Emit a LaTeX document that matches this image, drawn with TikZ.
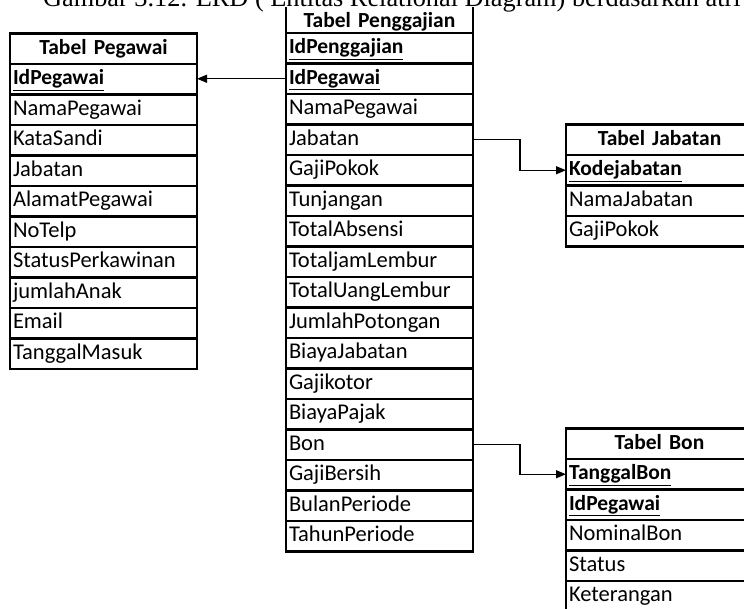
\documentclass[tikz,border=0pt]{standalone}
\usepackage{fontspec}
\setmainfont{Carlito}
\newfontfamily\captionfont{Liberation Serif}
\usetikzlibrary{arrows.meta}

\tikzset{
  field/.style={rectangle,draw,line width=2.5pt,anchor=north west,outer sep=0pt,
    minimum width=187pt,minimum height=30.5pt,text width=181pt,inner xsep=3pt,
    inner ysep=4.75pt,text height=16pt,text depth=5pt,
    align=left,font=\fontsize{22.5pt}{24pt}\selectfont},
  key/.style={field,font=\fontsize{21.5pt}{24pt}\selectfont\bfseries},
  head/.style={key,align=center},
  link/.style={line width=1.3pt,-{Triangle[length=10pt,width=8pt]}}
}

\begin{document}
\begin{tikzpicture}[x=1pt,y=-1pt]
    \useasboundingbox (0,0) rectangle (744,609);
    \clip (0,0) rectangle (744,609);

    % Tabel Pegawai
    \draw (10,33.5) node[head] (pHead) {Tabel Pegawai};
    \draw (10,64) node[key] (p1) {\underline{IdPegawai}};
    \draw (10,94.5) node[field] (p2) {NamaPegawai};
    \draw (10,125) node[field] (p3) {KataSandi};
    \draw (10,155.5) node[field] (p4) {Jabatan};
    \draw (10,186) node[field] (p5) {AlamatPegawai};
    \draw (10,216.5) node[field] (p6) {NoTelp};
    \draw (10,247) node[field] (p7) {StatusPerkawinan};
    \draw (10,277.5) node[field] (p8) {jumlahAnak};
    \draw (10,308) node[field] (p9) {Email};
    \draw (10,338.5) node[field] (p10) {TanggalMasuk};

    % Tabel Penggajian
    \draw (286,-10) node[head,text height=38pt,text depth=5pt,inner ysep=0pt] (gHead) {Tabel Penggajian};
    \draw (286,33) node[key] (g1) {\underline{IdPenggajian}};
    \draw (286,63.5) node[key] (g2) {\underline{IdPegawai}};
    \draw (286,94) node[field] (g3) {NamaPegawai};
    \draw (286,124.5) node[field] (g4) {Jabatan};
    \draw (286,155) node[field] (g5) {GajiPokok};
    \draw (286,185.5) node[field] (g6) {Tunjangan};
    \draw (286,216) node[field] (g7) {TotalAbsensi};
    \draw (286,246.5) node[field] (g8) {TotaljamLembur};
    \draw (286,277) node[field] (g9) {TotalUangLembur};
    \draw (286,307.5) node[field] (g10) {JumlahPotongan};
    \draw (286,338) node[field] (g11) {BiayaJabatan};
    \draw (286,368.5) node[field] (g12) {Gajikotor};
    \draw (286,399) node[field] (g13) {BiayaPajak};
    \draw (286,429.5) node[field] (g14) {Bon};
    \draw (286,460) node[field] (g15) {GajiBersih};
    \draw (286,490.5) node[field] (g16) {BulanPeriode};
    \draw (286,521) node[field] (g17) {TahunPeriode};

    % Tabel Jabatan
    \draw (566,124.5) node[head] (jHead) {Tabel Jabatan};
    \draw (566,155) node[key] (j1) {\underline{Kodejabatan}};
    \draw (566,185.5) node[field] (j2) {NamaJabatan};
    \draw (566,216) node[field] (j3) {GajiPokok};

    % Tabel Bon
    \draw (566,428.5) node[head] (bHead) {Tabel Bon};
    \draw (566,459) node[key] (b1) {\underline{TanggalBon}};
    \draw (566,489.5) node[key] (b2) {\underline{IdPegawai}};
    \draw (566,520) node[field] (b3) {NominalBon};
    \draw (566,550.5) node[field] (b4) {Status};
    \draw (566,581) node[field] (b5) {Keterangan};

    \draw[link] (g2.west) -- (g2.west -| p1.east);
    \draw[link] (g4.east) -- ++(47,0) |- (j1.west);
    \draw[link] (g14.east) -- ++(47,0) |- (b1.west);

    % caption sits over the top of the table
    \draw (43,7) node[anchor=base west,inner sep=0pt,fill=white,text depth=0pt,
        font=\captionfont\fontsize{26.3pt}{30pt}\selectfont] (caption)
        {Gambar 3.12. ERD ( Entitas Relational Diagram) berdasarkan atri};
\end{tikzpicture}
\end{document}
